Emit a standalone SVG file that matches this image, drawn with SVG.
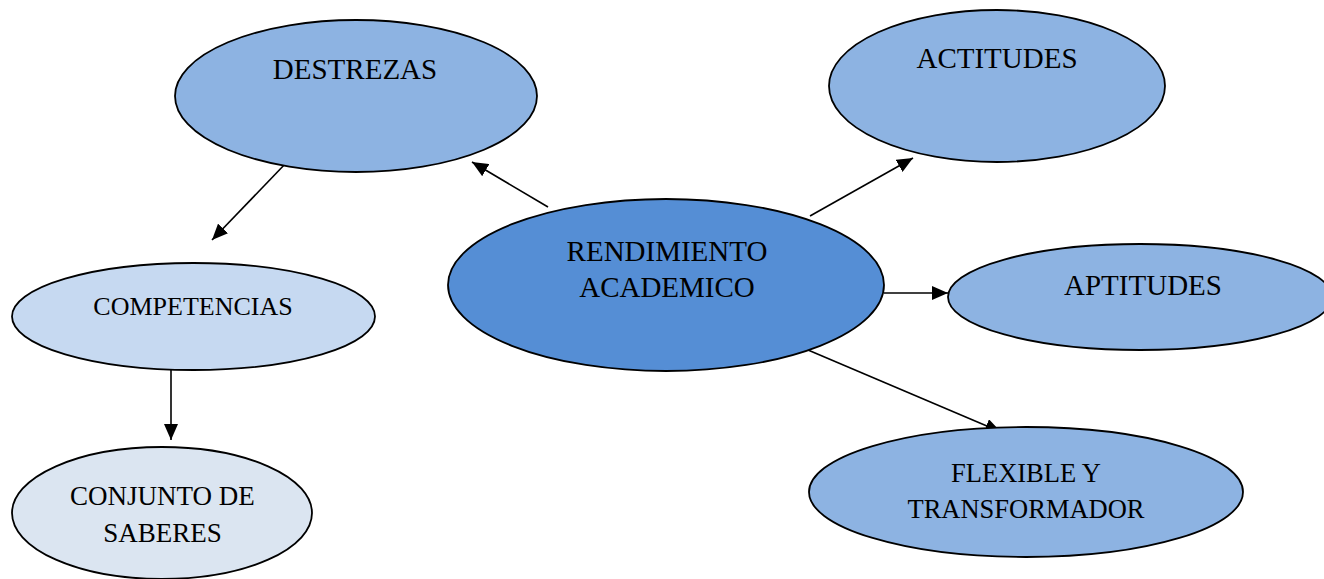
<svg xmlns="http://www.w3.org/2000/svg" width="1324" height="579" viewBox="0 0 1324 579">
<defs>
<style>
.n{stroke:#000;stroke-width:1.8}
.l{fill:#8DB3E2}
.c{fill:#558ED5}
.p{fill:#C6D9F1}
.s{fill:#DBE5F1}
text{font-family:"Liberation Serif","Times New Roman",serif;fill:#000;text-anchor:middle}
.e{stroke:#000;stroke-width:1.6;fill:none;marker-end:url(#ah)}
</style>
<marker id="ah" viewBox="0 0 16 14" refX="16" refY="7" markerWidth="16" markerHeight="14" markerUnits="userSpaceOnUse" orient="auto">
<path d="M0,0 L16,7 L0,14 z" fill="#000"/>
</marker>
</defs>
<rect width="1324" height="579" fill="#fff"/>
<g id="connectors">
<line class="e" x1="287" y1="162" x2="212" y2="240"/>
<line class="e" x1="548" y1="207" x2="472" y2="162"/>
<line class="e" x1="810" y1="216" x2="913" y2="158"/>
<line class="e" x1="884" y1="293" x2="948" y2="293"/>
<line class="e" x1="808" y1="350" x2="1001" y2="432"/>
<line class="e" x1="171" y1="367" x2="171" y2="440"/>
</g>
<g id="destrezas"><ellipse class="n l" cx="356" cy="96" rx="181" ry="76"/><text x="355" y="79" font-size="29">DESTREZAS</text></g>
<g id="actitudes"><ellipse class="n l" cx="997" cy="86" rx="168" ry="76"/><text x="997" y="68" font-size="29">ACTITUDES</text></g>
<g id="rendimiento"><ellipse class="n c" cx="666" cy="285" rx="218" ry="86"/><text x="667" y="261" font-size="29">RENDIMIENTO</text><text x="667" y="297" font-size="29">ACADEMICO</text></g>
<g id="aptitudes"><ellipse class="n l" cx="1140" cy="297" rx="192" ry="53"/><text x="1143" y="295" font-size="29">APTITUDES</text></g>
<g id="competencias"><ellipse class="n p" cx="193.5" cy="316.5" rx="181.5" ry="53.5"/><text x="193" y="315" font-size="26">COMPETENCIAS</text></g>
<g id="conjunto"><ellipse class="n s" cx="162" cy="513" rx="150" ry="66"/><text x="162.5" y="505" font-size="27">CONJUNTO DE</text><text x="162.5" y="542" font-size="27">SABERES</text></g>
<g id="flexible"><ellipse class="n l" cx="1026" cy="492" rx="217" ry="65"/><text x="1026" y="482" font-size="26.5">FLEXIBLE Y</text><text x="1026" y="518" font-size="26.5">TRANSFORMADOR</text></g>
</svg>
